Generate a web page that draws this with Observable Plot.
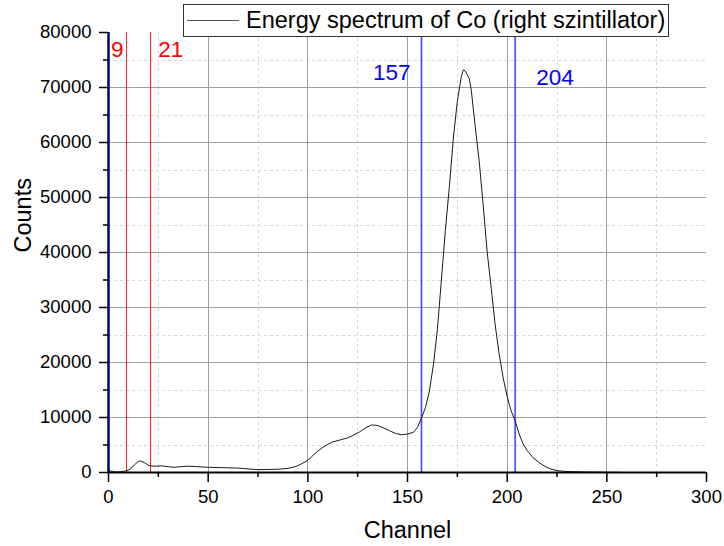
<!DOCTYPE html>
<html>
<head>
<meta charset="utf-8">
<script src="https://cdn.jsdelivr.net/npm/d3@7"></script>
<script src="https://cdn.jsdelivr.net/npm/@observablehq/plot@0.6"></script>
<style>
  html, body { margin: 0; padding: 0; background: white; }
  #wrap { position: relative; width: 724px; height: 546px; font-family: "Liberation Sans", Arial, sans-serif; }
  #legend { position: absolute; left: 183px; top: 4px; width: 484px; height: 31px; border: 1px solid #333; background: white; box-sizing: content-box; }
  #legend .swatch { position: absolute; left: 3px; top: 15px; width: 52px; height: 0; border-top: 1px solid #555; }
  #legend .lbl { position: absolute; left: 62px; top: 0px; font-size: 23.5px; line-height: 31px; white-space: nowrap; color: #000; }
</style>
</head>
<body>
<div id="wrap">
  <div id="chart"></div>
  <div id="legend"><div class="swatch"></div><div class="lbl">Energy spectrum of Co (right szintillator)</div></div>
</div>
<script>
// Spectrum (channel, counts)
const channel = [0, 2, 4, 6, 9, 11, 13, 15, 16, 18, 20, 21, 24, 27, 30, 33, 36, 40, 45, 50, 55, 60, 65, 70, 75, 80, 85, 90, 94, 97, 100, 102, 105, 108, 112, 116, 120, 123, 126, 129, 132, 135, 138, 141, 144, 147, 150, 153, 155, 157, 159, 161, 163, 165, 167, 169, 171, 173, 175, 177, 178, 179, 180, 181, 182, 184, 186, 188, 190, 192, 194, 196, 198, 200, 202, 204, 206, 208, 210, 213, 216, 219, 222, 226, 230, 240, 250, 256];
const counts = [350, 200, 80, 150, 300, 600, 1400, 2000, 2100, 1800, 1300, 1200, 1150, 1200, 1050, 950, 1050, 1150, 1050, 950, 900, 850, 800, 650, 520, 550, 600, 750, 1100, 1600, 2200, 2900, 3900, 4700, 5500, 5900, 6300, 6800, 7400, 8100, 8650, 8550, 8100, 7600, 7100, 6850, 7000, 7300, 8200, 9900, 11800, 14800, 19600, 26000, 35000, 44000, 52000, 60800, 67500, 72000, 73200, 73000, 72300, 71600, 69500, 62800, 56500, 48500, 40000, 33500, 26800, 21500, 17200, 13800, 11200, 9400, 7000, 5200, 4000, 2700, 1800, 1100, 600, 300, 180, 80, 40, 30];

// Axis ticks
const xMajorTicks = [0, 50, 100, 150, 200, 250, 300];
const xMinorTicks = [25, 75, 125, 175, 225, 275];
const yMajorTicks = [0, 10000, 20000, 30000, 40000, 50000, 60000, 70000, 80000];
const yMinorTicks = [5000, 15000, 25000, 35000, 45000, 55000, 65000, 75000];
const xGrid = [50, 100, 150, 200, 250];
const yGrid = [10000, 20000, 30000, 40000, 50000, 60000, 70000];

// Marker lines and their labels
const redMarkers = [9, 21];
const blueMarkers = [157, 204];
const annLabels = ["9", "21", "157", "204"];
const annX = [9, 21, 157, 204];
const annY = [76800, 76800, 72600, 71800];

const data = channel.map((c, i) => ({c, v: counts[i]}));
const annAnchor = ["end", "start", "end", "start"];
const annDx = [-3, 8, -11, 21];
const annColor = ["#ff0000", "#ff0000", "#0000ff", "#0000ff"];
const ann = annLabels.map((t, i) => ({t, x: annX[i], y: annY[i]}));

const crisp = {shapeRendering: "crispEdges"};

const chart = Plot.plot({
  width: 724,
  height: 546,
  marginLeft: 108,
  marginRight: 18,
  marginTop: 32,
  marginBottom: 74,
  x: {domain: [0, 300], label: null},
  y: {domain: [0, 80000], label: null},
  style: {fontFamily: "'Liberation Sans', Arial, sans-serif", fontSize: "18.5px", background: "white", color: "black", overflow: "visible"},
  marks: [
    Plot.ruleX(xMinorTicks, {stroke: "#d6d6d6", strokeDasharray: "3,3", ...crisp}),
    Plot.ruleY(yMinorTicks, {stroke: "#d6d6d6", strokeDasharray: "3,3", ...crisp}),
    Plot.ruleX(xGrid, {stroke: "#a0a0a0", ...crisp}),
    Plot.ruleY(yGrid, {stroke: "#a0a0a0", ...crisp}),
    Plot.ruleX(redMarkers, {stroke: "#ff2020", strokeWidth: 1, ...crisp}),
    Plot.ruleX(blueMarkers, {stroke: "#4646ff", strokeWidth: 1.6}),
    Plot.line(data, {x: "c", y: "v", stroke: "#1a1a1a", strokeWidth: 1}),
    Plot.ruleY([0], {stroke: "black", strokeWidth: 2}),
    Plot.ruleX([0], {stroke: "#000070", strokeWidth: 2.5}),
    Plot.axisX({ticks: xMajorTicks, tickSize: 10, tickPadding: 7, tickFormat: d => String(d), label: null, strokeWidth: 1.5}),
    Plot.axisX({ticks: xMinorTicks, tickSize: 5, tickFormat: () => "", label: null, strokeWidth: 1.5}),
    Plot.axisY({ticks: yMajorTicks, tickSize: 9, tickPadding: 8, tickFormat: d => String(d), label: null, strokeWidth: 1.5}),
    Plot.axisY({ticks: yMinorTicks, tickSize: 5, tickFormat: () => "", label: null, strokeWidth: 1.5}),
    ...ann.map((a, i) => Plot.text([a], {x: "x", y: "y", text: "t", fill: annColor[i], textAnchor: annAnchor[i], dx: annDx[i], fontSize: 22.5})),
    Plot.text(["Channel"], {frameAnchor: "bottom", dy: 65, fontSize: 23.5, fill: "black"}),
    Plot.text(["Counts"], {frameAnchor: "left", rotate: -90, dx: -85, fontSize: 23.5, fill: "black"})
  ]
});
document.getElementById("chart").appendChild(chart);
</script>
</body>
</html>
